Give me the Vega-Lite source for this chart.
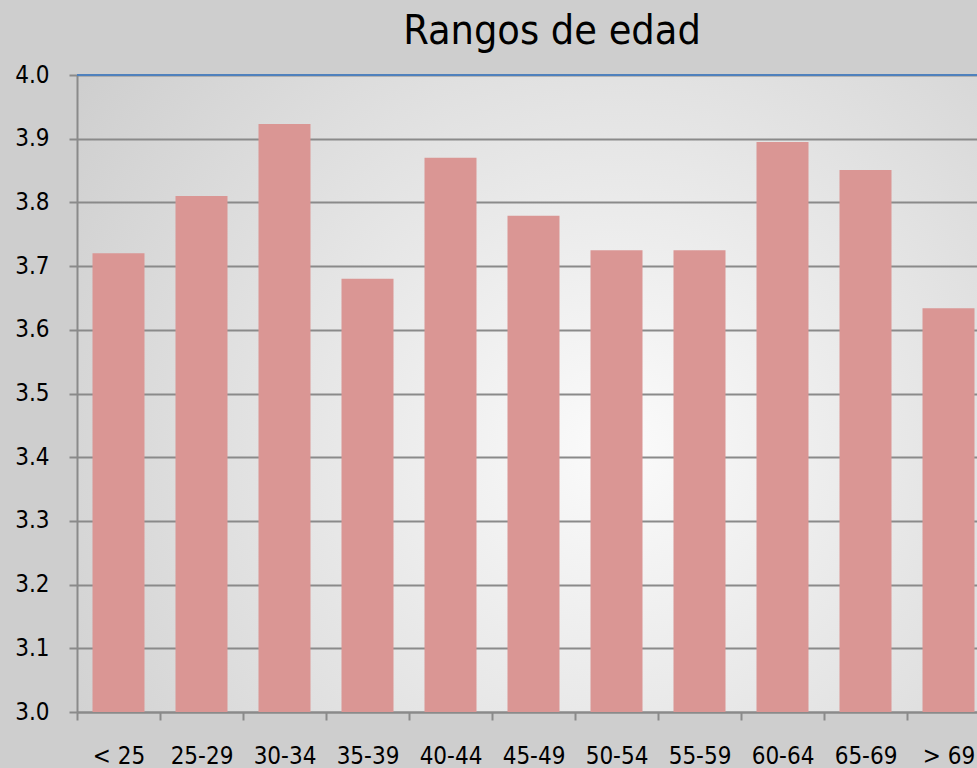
{
  "$schema": "https://vega.github.io/schema/vega-lite/v6.json",
  "width": 900,
  "height": 637,
  "autosize": {"type": "none"},
  "padding": {"left": 77, "top": 75, "right": 0, "bottom": 56},
  "background": "#cecece",
  "title": {
    "text": "Rangos de edad",
    "font": "DejaVu Sans Condensed, DejaVu Sans",
    "fontSize": 41,
    "fontWeight": "normal",
    "color": "#000000",
    "anchor": "middle",
    "dx": 25,
    "dy": 52,
    "baseline": "alphabetic",
    "offset": 30
  },
  "data": {
    "values": [
      {"rango": "< 25", "valor": 3.72},
      {"rango": "25-29", "valor": 3.81},
      {"rango": "30-34", "valor": 3.923},
      {"rango": "35-39", "valor": 3.68},
      {"rango": "40-44", "valor": 3.87},
      {"rango": "45-49", "valor": 3.779},
      {"rango": "50-54", "valor": 3.725},
      {"rango": "55-59", "valor": 3.725},
      {"rango": "60-64", "valor": 3.895},
      {"rango": "65-69", "valor": 3.851},
      {"rango": "> 69", "valor": 3.634}
    ]
  },
  "layer": [
    {
      "mark": {"type": "bar", "color": "#da9694"},
      "encoding": {
        "x": {
          "field": "rango",
          "type": "nominal",
          "sort": null,
          "scale": {"range": [0, 913], "paddingInner": 0.3735, "paddingOuter": 0.1867},
          "axis": {
            "title": null,
            "labelAngle": 0,
            "labelFont": "DejaVu Sans Condensed, DejaVu Sans",
            "labelFontSize": 24,
            "labelColor": "#000000",
            "labelBaseline": "alphabetic",
            "labelPadding": 43,
            "labelOffset": 41.5,
            "tickOffset": -41.5,
            "tickSize": 8,
            "tickWidth": 2,
            "tickColor": "#8a8a8a",
            "domainColor": "#8a8a8a",
            "domainWidth": 2,
            "grid": false
          }
        },
        "y": {
          "field": "valor",
          "type": "quantitative",
          "scale": {"domain": [3, 4], "zero": false, "nice": false},
          "axis": {
            "title": null,
            "values": [3.0, 3.1, 3.2, 3.3, 3.4, 3.5, 3.6, 3.7, 3.8, 3.9, 4.0],
            "format": ".1f",
            "labelFont": "DejaVu Sans Condensed, DejaVu Sans",
            "labelFontSize": 24,
            "labelColor": "#000000",
            "labelPadding": 20,
            "tickSize": 8,
            "tickWidth": 2,
            "tickColor": "#8a8a8a",
            "domainColor": "#8a8a8a",
            "domainWidth": 2,
            "grid": true,
            "gridColor": "#8a8a8a",
            "gridWidth": 2
          }
        },
        "y2": {"datum": 3}
      }
    },
    {
      "mark": {"type": "rule", "color": "#4f81bd", "strokeWidth": 2},
      "encoding": {"y": {"datum": 4}}
    }
  ],
  "config": {
    "view": {
      "stroke": null,
      "fill": {
        "gradient": "radial",
        "x1": 0.6, "y1": 0.56, "r1": 0,
        "x2": 0.6, "y2": 0.56, "r2": 0.75,
        "stops": [
          {"offset": 0, "color": "#fbfbfb"},
          {"offset": 1, "color": "#cdcdcd"}
        ]
      }
    }
  }
}
